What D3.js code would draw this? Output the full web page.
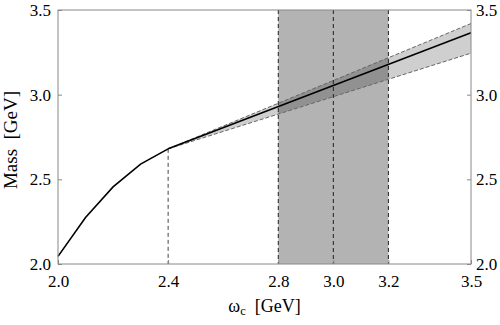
<!DOCTYPE html>
<html>
<head>
<meta charset="utf-8">
<script src="https://cdn.jsdelivr.net/npm/d3@7"></script>
<style>
  body { margin: 0; background: #fff; }
  svg text { font-family: "Liberation Serif", "Times New Roman", Times, serif; fill: #000; }
</style>
</head>
<body>
<div id="chart"></div>
<script>
// curve below the threshold (omega_c, mass)
const curveX = [2.0, 2.1, 2.2, 2.3, 2.4]
const curveY = [2.045, 2.275, 2.455, 2.59, 2.68]
// linear extrapolation with error band
const fitX = [2.4, 3.5]
const fitY = [2.68, 3.365]
const fitHi = [2.68, 3.42]
const fitLo = [2.68, 3.245]
// window of omega_c
const windowLo = 2.8
const windowHi = 3.2
const windowMid = 3.0
const threshold = 2.4

const xTicks = [2.0, 2.4, 2.8, 3.0, 3.2, 3.5]
const yTicks = [2.0, 2.5, 3.0, 3.5]

const width = 500, height = 325
const margin = {top: 10, right: 29, bottom: 61, left: 58}
const w = width - margin.left - margin.right
const h = height - margin.top - margin.bottom

const svg = d3.select("#chart").append("svg")
    .attr("width", width)
    .attr("height", height)

const plt = svg.append("g")
    .attr("transform", "translate(" + margin.left + "," + margin.top + ")")

const x = d3.scaleLinear().domain([2.0, 3.5]).range([0, w])
const y = d3.scaleLinear().domain([2.0, 3.5]).range([h, 0])

// vertical window
plt.append("rect")
    .attr("x", x(windowLo))
    .attr("y", 0)
    .attr("width", x(windowHi) - x(windowLo))
    .attr("height", h)
    .style("fill", "#b3b3b3")

// error band (semi transparent so it darkens over the window)
const band = fitX.map((d, i) => ({x: d, lo: fitLo[i], hi: fitHi[i]}))
plt.append("path")
    .datum(band)
    .attr("d", d3.area().x(d => x(d.x)).y0(d => y(d.lo)).y1(d => y(d.hi)))
    .style("fill", "#000")
    .style("fill-opacity", 0.19)

const edge = d3.line().x(d => x(d[0])).y(d => y(d[1]))
;[fitHi, fitLo].forEach(arr => {
    plt.append("path")
        .attr("d", edge(fitX.map((d, i) => [d, arr[i]])))
        .style("fill", "none")
        .style("stroke", "#666")
        .style("stroke-width", 1)
        .style("stroke-dasharray", "4,2")
})

// dashed verticals
;[windowLo, windowMid, windowHi].forEach(v => {
    plt.append("line")
        .attr("x1", x(v)).attr("x2", x(v))
        .attr("y1", 0).attr("y2", h)
        .style("stroke", "#222")
        .style("stroke-width", 1)
        .style("stroke-dasharray", "4,3")
})
plt.append("line")
    .attr("x1", x(threshold)).attr("x2", x(threshold))
    .attr("y1", y(curveY[curveY.length - 1])).attr("y2", h)
    .style("stroke", "#444")
    .style("stroke-width", 1)
    .style("stroke-dasharray", "4,3")

// curve and fit line
plt.append("path")
    .attr("d", edge(curveX.map((d, i) => [d, curveY[i]])))
    .style("fill", "none")
    .style("stroke", "#000")
    .style("stroke-width", 1.6)
plt.append("path")
    .attr("d", edge(fitX.map((d, i) => [d, fitY[i]])))
    .style("fill", "none")
    .style("stroke", "#000")
    .style("stroke-width", 1.6)

// frame
plt.append("rect")
    .attr("width", w).attr("height", h)
    .style("fill", "none")
    .style("stroke", "#888")
    .style("stroke-width", 1)

// ticks, pointing inward
const axisStyle = g => {
    g.attr("font-family", null)
    g.select(".domain").remove()
    g.selectAll(".tick line").style("stroke", "#888")
    g.selectAll(".tick text").style("font-size", "17px").attr("fill", "#000")
}
plt.append("g")
    .attr("transform", "translate(0," + h + ")")
    .call(d3.axisBottom(x).tickValues(xTicks).tickFormat(d3.format(".1f")).tickSize(-4).tickPadding(11))
    .call(axisStyle)
plt.append("g")
    .call(d3.axisLeft(y).tickValues(yTicks).tickFormat(d3.format(".1f")).tickSize(-4).tickPadding(7))
    .call(axisStyle)
plt.append("g")
    .attr("transform", "translate(" + w + ",0)")
    .call(d3.axisRight(y).tickValues(yTicks).tickFormat(d3.format(".1f")).tickSize(-4).tickPadding(5))
    .call(axisStyle)

// axis titles
const xt = svg.append("text")
    .attr("x", margin.left + w / 2)
    .attr("y", 312)
    .attr("text-anchor", "middle")
    .attr("xml:space", "preserve")
    .style("font-size", "18px")
xt.append("tspan").text("ω")
xt.append("tspan").text("c").attr("dy", 3).style("font-size", "12.5px")
xt.append("tspan").text("  [GeV]").attr("dy", -3)

svg.append("text")
    .attr("transform", "translate(17," + (margin.top + h / 2 + 3) + ") rotate(-90)")
    .attr("text-anchor", "middle")
    .attr("xml:space", "preserve")
    .style("font-size", "19px")
    .text("Mass  [GeV]")
</script>
</body>
</html>
